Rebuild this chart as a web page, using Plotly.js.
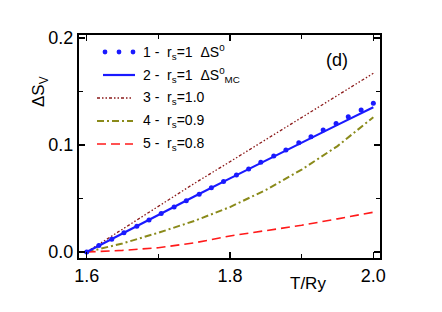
<!DOCTYPE html>
<html>
<head>
<meta charset="utf-8">
<script src="https://cdn.plot.ly/plotly-3.0.1.min.js"></script>
<style>html,body{margin:0;padding:0;background:#fff;}#chart{width:442px;height:312px;}</style>
</head>
<body>
<div id="chart"></div>
<script>
// ---- data ----
const T_dots = [1.600,1.617,1.635,1.652,1.670,1.687,1.704,1.722,1.739,1.757,1.774,1.791,1.809,1.826,1.843,1.861,1.878,1.896,1.913,1.930,1.948,1.965,1.983,2.000];
const dS0_rs1 = [0.000,0.006,0.012,0.018,0.024,0.030,0.036,0.042,0.048,0.054,0.060,0.066,0.072,0.0776,0.0838,0.0897,0.0953,0.1020,0.1078,0.1140,0.1200,0.1265,0.1327,0.1390];
const T_lines = [1.60,1.65,1.70,1.75,1.80,1.85,1.90,1.95,2.00];
const dS0MC_rs1 = [0.000,0.0174,0.0346,0.0518,0.0688,0.0856,0.1022,0.1188,0.1352];
const dS_rs10 = [0.000,0.0215,0.0430,0.0640,0.0844,0.1050,0.1260,0.1460,0.1670];
const dS_rs09 = [0.000,0.0080,0.0180,0.0290,0.0420,0.0580,0.0770,0.0990,0.1260];
const dS_rs08 = [0.000,0.0015,0.0040,0.0085,0.0150,0.0200,0.0250,0.0310,0.0372];
const legendLabels = [
  "1 -  r<sub>s</sub>=1  ΔS<sup>0</sup>",
  "2 -  r<sub>s</sub>=1  ΔS<sup>0</sup><sub>MC</sub>",
  "3 -  r<sub>s</sub>=1.0",
  "4 -  r<sub>s</sub>=0.9",
  "5 -  r<sub>s</sub>=0.8"
];
const xTickVals = [1.6,1.8,2.0];
const xTickText = ["1.6","1.8","2.0"];
const yTickVals = [0.0,0.1,0.2];
const yTickText = ["0.0","0.1","0.2"];

// ---- styling ----
const cBlue = "#1a1aff", cDarkRed = "#8b1a1a", cOlive = "#8a8a1a", cRed = "#ff1a1a";
const FONT = "Liberation Sans, Arial, sans-serif";
const W = 442, H = 312, L = 79, R = 62, Tm = 35, B = 54;
const pw = W - L - R, ph = H - Tm - B;
const px = x => (x - L) / pw;
const py = y => (H - B - y) / ph;

const traces = [
  {x: T_lines, y: dS_rs10, mode: "lines", line: {color: cDarkRed, width: 1.3, dash: "3px,2px,1.5px,2px,1.5px,2px"}},
  {x: T_lines, y: dS_rs09, mode: "lines", line: {color: cOlive, width: 2, dash: "7px,3px,2px,3px"}},
  {x: T_lines, y: dS_rs08, mode: "lines", line: {color: cRed, width: 1.6, dash: "9px,5px"}},
  {x: T_lines, y: dS0MC_rs1, mode: "lines", line: {color: cBlue, width: 2.2}},
  {x: T_dots, y: dS0_rs1, mode: "markers", marker: {color: cBlue, size: 5}}
];

// custom legend
const rows = [52, 75, 98, 121, 144];
const shapes = [];
const annotations = [];
[105, 119, 133].forEach(xx => {
  shapes.push({type: "circle", xref: "paper", yref: "paper",
    x0: px(xx - 2.4), x1: px(xx + 2.4), y0: py(rows[0] + 2.4), y1: py(rows[0] - 2.4),
    fillcolor: cBlue, line: {width: 0}});
});
shapes.push({type: "line", xref: "paper", yref: "paper", x0: px(103), x1: px(135), y0: py(rows[1]), y1: py(rows[1]), line: {color: cBlue, width: 2.2}});
shapes.push({type: "line", xref: "paper", yref: "paper", x0: px(97), x1: px(133), y0: py(rows[2]), y1: py(rows[2]), line: {color: cDarkRed, width: 1.3, dash: "3px,2px,1.5px,2px,1.5px,2px"}});
shapes.push({type: "line", xref: "paper", yref: "paper", x0: px(97), x1: px(133), y0: py(rows[3]), y1: py(rows[3]), line: {color: cOlive, width: 2, dash: "7px,3px,2px,3px"}});
shapes.push({type: "line", xref: "paper", yref: "paper", x0: px(97), x1: px(133), y0: py(rows[4]), y1: py(rows[4]), line: {color: cRed, width: 1.6, dash: "9px,5px"}});
legendLabels.forEach((t, i) => {
  annotations.push({xref: "paper", yref: "paper", x: px(141), y: py(rows[i]), xanchor: "left", yanchor: "middle",
    text: t, showarrow: false, font: {family: FONT, size: 14, color: "#000"}});
});
annotations.push({xref: "paper", yref: "paper", x: px(337), y: py(60), xanchor: "center", yanchor: "middle",
  text: "(d)", showarrow: false, font: {family: FONT, size: 18, color: "#000"}});
annotations.push({xref: "paper", yref: "paper", x: px(40), y: py(92), xanchor: "center", yanchor: "middle", textangle: -90,
  text: "ΔS<sub>V</sub>", showarrow: false, font: {family: FONT, size: 17, color: "#000"}});
annotations.push({xref: "paper", yref: "paper", x: px(308), y: py(283), xanchor: "center", yanchor: "middle",
  text: "T/Ry", showarrow: false, font: {family: FONT, size: 17, color: "#000"}});

const axisCommon = {
  showline: true, linecolor: "#000", linewidth: 2, mirror: "ticks",
  ticks: "inside", ticklen: 6, tickwidth: 1.5, tickcolor: "#000",
  showgrid: false, zeroline: false,
  tickfont: {family: FONT, size: 18, color: "#000"}
};

const layout = {
  width: W, height: H,
  margin: {l: L, r: R, t: Tm, b: B, pad: 0},
  paper_bgcolor: "#fff", plot_bgcolor: "#fff",
  showlegend: false,
  xaxis: Object.assign({}, axisCommon, {
    range: [1.5893, 2.0093], tickmode: "array", tickvals: xTickVals, ticktext: xTickText,
    minor: {dtick: 0.1, tick0: 1.6, ticks: "inside", ticklen: 4, tickwidth: 1.5, tickcolor: "#000"}
  }),
  yaxis: Object.assign({}, axisCommon, {
    range: [-0.0056, 0.2028], tickmode: "array", tickvals: yTickVals, ticktext: yTickText,
    minor: {dtick: 0.05, tick0: 0, ticks: "inside", ticklen: 4, tickwidth: 1.5, tickcolor: "#000"}
  }),
  shapes: shapes,
  annotations: annotations
};

Plotly.newPlot("chart", traces, layout, {displayModeBar: false, staticPlot: true});
</script>
</body>
</html>
